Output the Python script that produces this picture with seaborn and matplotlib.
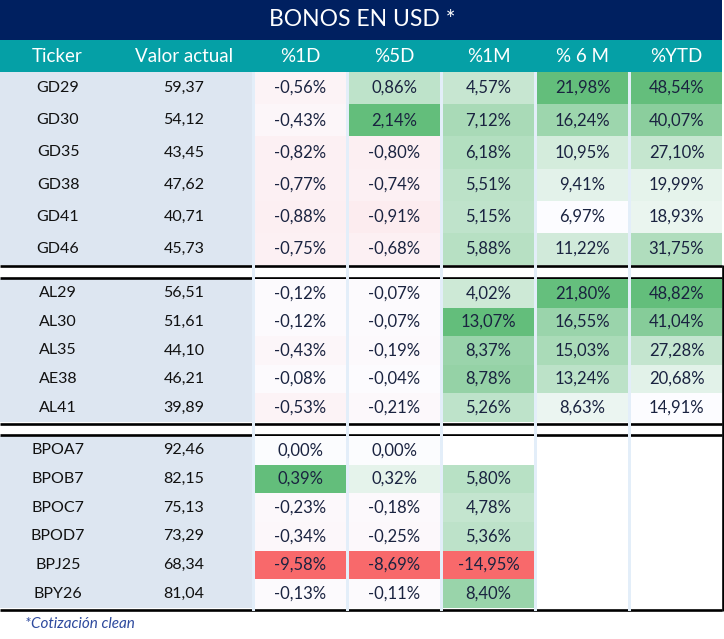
import numpy as np
import pandas as pd
import matplotlib.pyplot as plt
import seaborn as sns
from matplotlib.colors import LinearSegmentedColormap, TwoSlopeNorm, Normalize
from matplotlib.patches import Rectangle

sns.set_style("white")
plt.rcParams["font.family"] = ["Lato", "DejaVu Sans"]

# bond data, three blocks: GD, AL, BP
group_sizes = [6, 5, 6]
tickers = ["GD29", "GD30", "GD35", "GD38", "GD41", "GD46",
           "AL29", "AL30", "AL35", "AE38", "AL41",
           "BPOA7", "BPOB7", "BPOC7", "BPOD7", "BPJ25", "BPY26"]
valor = [59.37, 54.12, 43.45, 47.62, 40.71, 45.73,
         56.51, 51.61, 44.10, 46.21, 39.89,
         92.46, 82.15, 75.13, 73.29, 68.34, 81.04]
pct_1d = [-0.56, -0.43, -0.82, -0.77, -0.88, -0.75,
          -0.12, -0.12, -0.43, -0.08, -0.53,
          0.00, 0.39, -0.23, -0.34, -9.58, -0.13]
pct_5d = [0.86, 2.14, -0.80, -0.74, -0.91, -0.68,
          -0.07, -0.07, -0.19, -0.04, -0.21,
          0.00, 0.32, -0.18, -0.25, -8.69, -0.11]
pct_1m = [4.57, 7.12, 6.18, 5.51, 5.15, 5.88,
          4.02, 13.07, 8.37, 8.78, 5.26,
          np.nan, 5.80, 4.78, 5.36, -14.95, 8.40]
pct_6m = [21.98, 16.24, 10.95, 9.41, 6.97, 11.22,
          21.80, 16.55, 15.03, 13.24, 8.63,
          np.nan, np.nan, np.nan, np.nan, np.nan, np.nan]
pct_ytd = [48.54, 40.07, 27.10, 19.99, 18.93, 31.75,
           48.82, 41.04, 27.28, 20.68, 14.91,
           np.nan, np.nan, np.nan, np.nan, np.nan, np.nan]
col_names = ["%1D", "%5D", "%1M", "% 6 M", "%YTD"]

df = pd.DataFrame({"%1D": pct_1d, "%5D": pct_5d, "%1M": pct_1m,
                   "% 6 M": pct_6m, "%YTD": pct_ytd})

# colours
NAVY = "#002060"
TEAL = "#05a0a6"
LIGHT = "#dde6f1"
SEP = "#e3eef9"
TXT = "#1a2340"
RED, WHITE, GREEN = "#f8696b", "#fcfcff", "#63be7b"
div_cmap = LinearSegmentedColormap.from_list("rwg", [RED, WHITE, GREEN])
seq_cmap = LinearSegmentedColormap.from_list("wg", [WHITE, GREEN])

W, H = 724, 639
fig = plt.figure(figsize=(W / 100, H / 100), dpi=100)
bg = fig.add_axes([0, 0, 1, 1])
bg.set_xlim(0, W)
bg.set_ylim(H, 0)
bg.axis("off")


def fig_rect(x0, y0, x1, y1):
    return [x0 / W, 1 - y1 / H, (x1 - x0) / W, (y1 - y0) / H]


def fmt(v):
    return "" if np.isnan(v) else f"{v:.2f}".replace(".", ",") + "%"


# layout (pixels)
group_tops = [72, 279, 436]
group_bottoms = [265, 422, 608]
col_x0 = [255 + 94 * i for i in range(5)]
col_w = 91

# title and header
bg.add_patch(Rectangle((0, 0), 722, 40, color=NAVY, lw=0))
bg.text(362, 20, "BONOS EN USD *", color="white", fontsize=16.5,
        ha="center", va="center")
bg.add_patch(Rectangle((0, 40), 722, 32, color=TEAL, lw=0))
bg.text(57, 56, "Ticker", color="white", fontsize=13.5, ha="center", va="center")
bg.text(184, 56, "Valor actual", color="white", fontsize=13.5, ha="center", va="center")
for x0, name in zip(col_x0, col_names):
    bg.text(x0 + col_w / 2, 56, name, color="white", fontsize=13.5,
            ha="center", va="center")

# ticker / valor blocks
start = 0
for top, bot, n in zip(group_tops, group_bottoms, group_sizes):
    bg.add_patch(Rectangle((0, top), 252, bot - top, color=LIGHT, lw=0))
    rh = (bot - top) / n
    for k in range(n):
        yc = top + rh * (k + 0.5)
        bg.text(58, yc, tickers[start + k], fontsize=11.5, color="#111111",
                ha="center", va="center")
        bg.text(184, yc, f"{valor[start + k]:.2f}".replace(".", ","),
                fontsize=11.5, color="#111111", ha="center", va="center")
    start += n

# black block borders
bg.hlines([266, 277.5, 423.5, 434.5, 609.5], 0, 722, color="black", lw=1.9, zorder=3)
bg.vlines(723, 265, 611, color="black", lw=1.9, zorder=3)

# light column separators
for xs in [252] + [x0 + col_w for x0 in col_x0[:-1]]:
    bg.add_patch(Rectangle((xs, 72), 3, 539, color=SEP, lw=0, zorder=4))

# heatmap cells, one colour scale per column
for ci, name in enumerate(col_names):
    col = df[name].to_numpy()
    lo, hi = np.nanmin(col), np.nanmax(col)
    if lo < 0:
        cmap, norm = div_cmap, TwoSlopeNorm(vmin=lo, vcenter=0, vmax=hi)
    else:
        cmap, norm = seq_cmap, Normalize(vmin=lo, vmax=hi)
    start = 0
    for top, bot, n in zip(group_tops, group_bottoms, group_sizes):
        block = df[[name]].iloc[start:start + n]
        start += n
        if block[name].isna().all():
            continue
        labels = np.array([[fmt(v)] for v in block[name]])
        ax = fig.add_axes(fig_rect(col_x0[ci], top, col_x0[ci] + col_w, bot))
        ax.set_facecolor("white")
        sns.heatmap(block, ax=ax, cmap=cmap, norm=norm, cbar=False,
                    annot=labels, fmt="", xticklabels=False, yticklabels=False,
                    annot_kws={"color": TXT, "fontsize": 12})

bg.text(25, 624, "*Cotización clean", style="italic", color="#2e4a9e",
        fontsize=11, va="center")

fig.savefig("out.png", dpi=100)
